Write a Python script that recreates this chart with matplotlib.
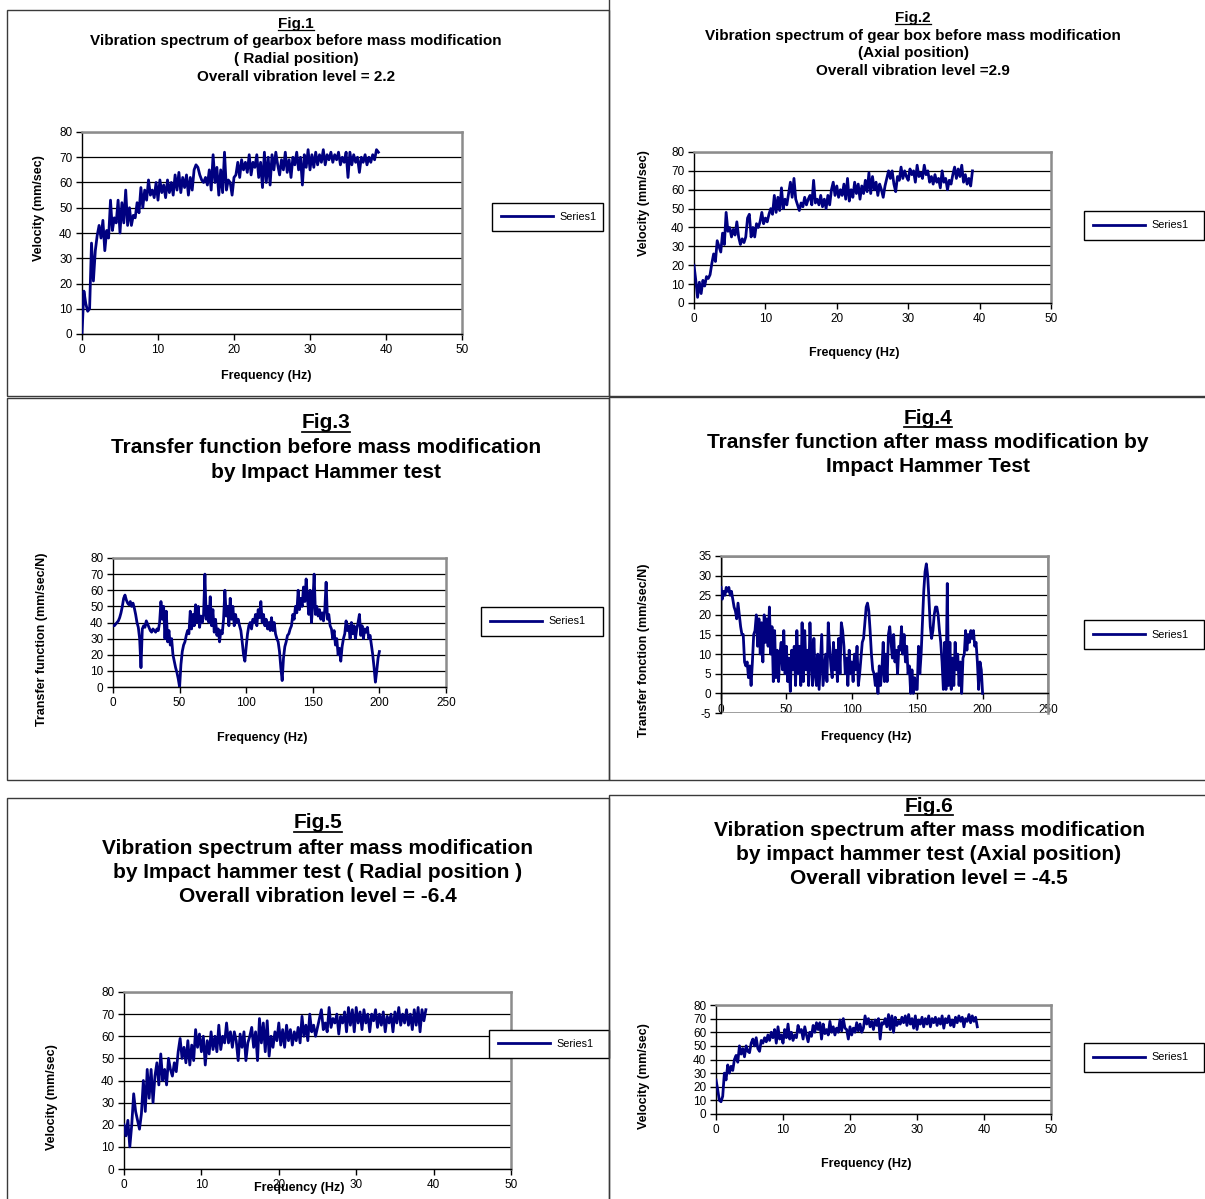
import numpy as np
import matplotlib
matplotlib.use("Agg")
import matplotlib.pyplot as plt
from matplotlib.patches import Rectangle
from matplotlib.lines import Line2D

plt.rcParams['font.family'] = ['Liberation Sans', 'DejaVu Sans']
plt.rcParams['axes.unicode_minus'] = False

# --- DATA (0.25 Hz steps for spectra, 1 Hz for transfer functions) ---
SPEC_STEP = 0.25
TF_STEP = 1.0

fig1_vel = [
    0, 17, 12, 9, 10, 36, 21, 33,
    39, 43, 38, 45, 33, 41, 38, 53,
    41, 46, 44, 53, 40, 52, 44, 57,
    43, 50, 43, 47, 46, 52, 48, 58,
    50, 57, 53, 61, 55, 57, 54, 60,
    53, 61, 56, 59, 54, 61, 56, 60,
    55, 63, 57, 64, 56, 62, 58, 63,
    55, 62, 57, 65, 67, 66, 63, 61,
    60, 62, 59, 65, 57, 71, 60, 66,
    55, 65, 56, 72, 57, 61, 60, 55,
    62, 63, 68, 62, 69, 65, 68, 64,
    71, 63, 68, 66, 71, 62, 68, 58,
    72, 60, 70, 59, 71, 65, 72, 67,
    63, 69, 65, 72, 64, 69, 62, 70,
    67, 72, 65, 70, 59, 71, 66, 73,
    65, 71, 66, 72, 67, 71, 68, 73,
    67, 71, 69, 72, 68, 71, 69, 72,
    67, 70, 68, 72, 62, 72, 67, 71,
    68, 70, 64, 70, 68, 71, 67, 70,
    68, 71, 69, 73, 72,
]

fig2_vel = [
    20, 12, 3, 11, 5, 12, 9, 14,
    13, 15, 21, 26, 22, 33, 30, 27,
    37, 31, 48, 38, 40, 35, 39, 36,
    43, 35, 31, 34, 32, 35, 45, 47,
    35, 40, 35, 42, 40, 43, 48, 42,
    45, 43, 47, 50, 47, 57, 48, 56,
    49, 61, 50, 55, 52, 58, 64, 56,
    66, 55, 52, 49, 53, 51, 56, 52,
    55, 57, 52, 65, 53, 55, 52, 57,
    51, 55, 50, 57, 52, 60, 64, 57,
    62, 56, 60, 57, 63, 55, 66, 54,
    60, 56, 64, 58, 63, 55, 62, 58,
    65, 59, 69, 58, 67, 60, 64, 57,
    63, 60, 56, 62, 66, 70, 66, 70,
    63, 59, 67, 65, 72, 66, 70, 67,
    65, 71, 68, 70, 64, 73, 67, 69,
    66, 73, 68, 70, 64, 67, 63, 68,
    64, 66, 61, 70, 64, 66, 60, 65,
    63, 68, 72, 66, 71, 67, 73, 64,
    68, 63, 66, 62, 70,
]

fig3_tf = [
    38, 38, 39, 40, 41, 43, 46, 50, 55, 57,
    54, 52, 51, 53, 50, 52, 49, 45, 40, 37,
    30, 12, 36, 38, 37, 41, 39, 37, 35, 34,
    36, 35, 34, 36, 35, 40, 53, 42, 50, 30,
    47, 28, 35, 26, 30, 20, 16, 12, 9, 5,
    0, 14, 22, 26, 28, 32, 35, 33, 47, 36,
    45, 38, 51, 40, 50, 37, 44, 40, 45, 70,
    42, 50, 40, 56, 38, 48, 34, 42, 32, 36,
    28, 35, 33, 42, 60, 44, 50, 38, 55, 42,
    50, 38, 45, 40, 42, 38, 35, 28, 20, 16,
    25, 33, 38, 40, 36, 42, 40, 45, 38, 48,
    43, 53, 40, 45, 38, 42, 36, 40, 35, 43,
    35, 40, 33, 30, 28, 22, 12, 4, 18, 25,
    28, 32, 33, 36, 38, 45, 42, 50, 46, 60,
    48, 55, 50, 62, 53, 67, 55, 45, 60, 40,
    52, 70, 45, 50, 44, 48, 42, 46, 41, 48,
    65, 42, 45, 38, 36, 30, 35, 26, 30, 20,
    24, 16, 25, 30, 33, 41, 35, 38, 30, 40,
    33, 38, 30, 36, 40, 45, 32, 38, 30, 36,
    34, 37, 30, 32, 26, 20, 12, 3, 10, 18,
    22,
]

fig4_tf = [
    27, 24, 26, 25, 27, 26, 27, 25, 26, 24,
    22, 21, 19, 23, 20, 17, 15, 15, 8, 7,
    8, 4, 7, 2, 8, 15, 16, 20, 12, 19,
    10, 18, 8, 20, 13, 19, 12, 22, 10, 17,
    3, 16, 4, 11, 3, 10, 13, 6, 16, 5,
    12, 3, 9, 0.5, 11, 6, 12, 2, 16, 5,
    12, 2, 18, 3, 16, 6, 11, 2, 18, 8,
    2, 14, 5, 2, 10, 1, 8, 15, 2, 6,
    10, 3, 18, 12, 7, 4, 13, 6, 11, 3,
    14, 5, 18, 16, 12, 5, 9, 2, 11, 5,
    8, 3, 10, 6, 12, 2, 5, 9, 13, 14,
    18, 22, 23, 21, 16, 10, 6, 5, 2, 5,
    0, 7, 2, 6, 13, 3, 10, 3, 15, 17,
    13, 9, 15, 8, 11, 5, 12, 11, 17, 10,
    15, 8, 12, 5, 7, 0, 6, 0, 4, 1,
    1, 12, 5, 10, 18, 26, 31, 33, 30, 24,
    17, 14, 16, 20, 22, 22, 20, 16, 13, 8,
    1, 13, 1, 28, 2, 13, 1, 9, 2, 13,
    6, 10, 2, 8, 0, 9, 10, 16, 11, 15,
    13, 16, 14, 16, 12, 13, 8, 1, 8, 6,
    0,
]

fig5_vel = [
    20, 15, 22, 10, 20, 34, 26, 22,
    18, 25, 40, 26, 45, 32, 45, 30,
    42, 48, 38, 52, 40, 45, 38, 50,
    45, 42, 48, 44, 53, 59, 50, 55,
    48, 58, 47, 56, 49, 63, 55, 61,
    53, 60, 47, 58, 52, 62, 54, 60,
    53, 65, 54, 60, 57, 66, 57, 62,
    55, 62, 58, 49, 61, 55, 62, 49,
    57, 60, 64, 55, 62, 49, 68, 57,
    66, 53, 67, 51, 60, 55, 62, 58,
    66, 56, 63, 55, 65, 58, 63, 56,
    62, 58, 64, 57, 69, 60, 65, 58,
    70, 62, 65, 60, 64, 68, 72, 63,
    66, 62, 73, 64, 68, 66, 70, 61,
    69, 66, 71, 62, 73, 65, 72, 62,
    73, 66, 71, 63, 72, 66, 70, 62,
    70, 67, 72, 64, 70, 65, 71, 62,
    69, 66, 70, 62, 71, 66, 73, 65,
    70, 66, 72, 65, 70, 63, 72, 65,
    73, 62, 72, 67, 72,
]

fig6_vel = [
    25, 18, 10, 9, 13, 30, 25, 36,
    30, 35, 32, 40, 43, 38, 50, 44,
    48, 42, 50, 46, 45, 52, 55, 50,
    56, 48, 46, 54, 52, 56, 53, 58,
    54, 60, 56, 62, 52, 64, 55, 58,
    52, 62, 56, 66, 55, 60, 54, 58,
    56, 65, 60, 62, 55, 64, 58, 53,
    60, 57, 65, 60, 67, 62, 67, 55,
    66, 59, 62, 58, 68, 60, 64, 58,
    63, 60, 69, 61, 70, 63, 62, 55,
    64, 58, 63, 60, 67, 61, 66, 60,
    63, 72, 66, 70, 64, 68, 62, 69,
    65, 70, 55, 67, 66, 70, 64, 73,
    62, 72, 60, 71, 65, 68, 66, 71,
    67, 72, 65, 73, 66, 70, 63, 72,
    62, 69, 66, 71, 64, 70, 66, 72,
    64, 70, 67, 71, 65, 70, 66, 72,
    63, 70, 67, 72, 65, 69, 64, 71,
    67, 72, 68, 71, 64, 70, 68, 73,
    67, 72, 68, 71, 64,
]

titles = [
    ["Vibration spectrum of gearbox before mass modification", "( Radial position)", "Overall vibration level = 2.2"],
    ["Vibration spectrum of gear box before mass modification", "(Axial position)", "Overall vibration level =2.9"],
    ["Transfer function before mass modification", "by Impact Hammer test"],
    ["Transfer function after mass modification by", "Impact Hammer Test"],
    ["Vibration spectrum after mass modification", "by Impact hammer test ( Radial position )", "Overall vibration level = -6.4"],
    ["Vibration spectrum after mass modification", "by impact hammer test (Axial position)", "Overall vibration level = -4.5"],
]
ylabels = ["Velocity (mm/sec)", "Velocity (mm/sec)", "Transfer function (mm/sec/N)",
           "Transfer fonction (mm/sec/N)", "Velocity (mm/sec)", "Velocity (mm/sec)"]
xlabel = "Frequency (Hz)"
spec_xticks = [0, 10, 20, 30, 40, 50]
tf_xticks = [0, 50, 100, 150, 200, 250]
vel_yticks = list(range(0, 81, 10))
tf4_yticks = list(range(-5, 36, 5))

# --- FIGURE ---
W, H = 1205, 1199
fig = plt.figure(figsize=(W / 100, H / 100), dpi=100)
fig.patch.set_facecolor("white")


def fx(x):
    return x / W


def fy(y):
    return 1 - y / H


def px_axes(l, t, r, b):
    return fig.add_axes([fx(l), fy(b), (r - l) / W, (b - t) / H])


# panel frames (left, top, right, bottom in pixels)
frames = [(7, 10, 609, 396), (609, -5, 1212, 396), (7, 398, 609, 780),
          (609, 397, 1212, 780), (7, 798, 609, 1210), (609, 795, 1212, 1210)]
for l, t, r, b in frames:
    fig.add_artist(Rectangle((fx(l), fy(b)), (r - l) / W, (b - t) / H,
                             transform=fig.transFigure, fill=False,
                             edgecolor="#3a3a3a", linewidth=1.0))

panels = [
    dict(y=fig1_vel, step=SPEC_STEP, box=(82, 132, 462, 334), xlim=(0, 50), ylim=(0, 80),
         xt=spec_xticks, yt=vel_yticks, leg=(492, 202, 603, 232), tsize=11, tx=296,
         ty=[24, 41, 59, 77], ylab=(39, 208), xlab=(266, 376)),
    dict(y=fig2_vel, step=SPEC_STEP, box=(694, 152, 1051, 303), xlim=(0, 50), ylim=(0, 80),
         xt=spec_xticks, yt=vel_yticks, leg=(1084, 211, 1204, 240), tsize=11, tx=913,
         ty=[18, 36, 53, 71], ylab=(644, 203), xlab=(854, 353)),
    dict(y=fig3_tf, step=TF_STEP, box=(113, 558, 446, 687), xlim=(0, 250), ylim=(0, 80),
         xt=tf_xticks, yt=vel_yticks, leg=(481, 607, 603, 636), tsize=15, tx=326,
         ty=[423, 447, 472], ylab=(42, 639), xlab=(262, 738)),
    dict(y=fig4_tf, step=TF_STEP, box=(721, 556, 1048, 713), xlim=(0, 250), ylim=(-5, 35),
         xt=tf_xticks, yt=tf4_yticks, leg=(1084, 620, 1204, 649), tsize=15, tx=928,
         ty=[418, 442, 466], ylab=(644, 650), xlab=(866, 737)),
    dict(y=fig5_vel, step=SPEC_STEP, box=(124, 992, 511, 1169), xlim=(0, 50), ylim=(0, 80),
         xt=spec_xticks, yt=vel_yticks, leg=(489, 1029, 609, 1059), tsize=15, tx=318,
         ty=[823, 848, 872, 896], ylab=(52, 1097), xlab=(299, 1188)),
    dict(y=fig6_vel, step=SPEC_STEP, box=(716, 1005, 1051, 1114), xlim=(0, 50), ylim=(0, 80),
         xt=spec_xticks, yt=vel_yticks, leg=(1084, 1043, 1204, 1072), tsize=15, tx=929,
         ty=[806, 830, 855, 879], ylab=(644, 1076), xlab=(866, 1164)),
]

fig_labels = []
for i, p in enumerate(panels):
    ax = px_axes(*p["box"])
    y = np.array(p["y"], dtype=float)
    x = np.arange(len(y)) * p["step"]
    line, = ax.plot(x, y, color="#000080", linewidth=2.0, label="Series1", zorder=3)

    ax.set_xlim(*p["xlim"])
    ax.set_ylim(*p["ylim"])
    ax.set_xticks(p["xt"])
    ax.set_yticks(p["yt"])
    ax.yaxis.grid(True, color="black", linewidth=0.9)
    ax.set_axisbelow(True)
    ax.tick_params(direction="out", length=4, width=1, labelsize=8.5, pad=3)
    for s in ["top", "right"]:
        ax.spines[s].set_color("#8c8c8c")
        ax.spines[s].set_linewidth(1.8)
    for s in ["left", "bottom"]:
        ax.spines[s].set_color("black")
        ax.spines[s].set_linewidth(1.0)
    if p["ylim"][0] < 0:
        # x axis crosses at zero, gray frame at the bottom of the plot area
        ax.spines["bottom"].set_position(("data", 0))
        ax.add_patch(Rectangle((0, 0), 1, 1, transform=ax.transAxes, fill=False,
                               edgecolor="#8c8c8c", linewidth=1.8, zorder=1))
        ax.tick_params(axis="x", pad=4)

    # legend box
    l, t, r, b = p["leg"]
    ax.legend(handles=[line], loc="center", mode="expand",
              bbox_to_anchor=(fx(l), fy(b), (r - l) / W, (b - t) / H),
              bbox_transform=fig.transFigure, fancybox=False, framealpha=1,
              edgecolor="black", fontsize=7.8, handlelength=4.8, handletextpad=0.6,
              borderpad=0.85, borderaxespad=0)
    ax.get_legend().get_frame().set_linewidth(1.0)

    # titles
    lines = ["Fig.%d" % (i + 1)] + titles[i]
    for j, txt in enumerate(lines):
        tt = fig.text(fx(p["tx"]), fy(p["ty"][j]), txt, ha="center", va="center",
                      fontsize=p["tsize"], fontweight="bold")
        if j == 0:
            fig_labels.append(tt)

    fig.text(fx(p["xlab"][0]), fy(p["xlab"][1]), xlabel, ha="center", va="center",
             fontsize=9, fontweight="bold")
    fig.text(fx(p["ylab"][0]), fy(p["ylab"][1]), ylabels[i], ha="center", va="center",
             fontsize=9, fontweight="bold", rotation=90)

# underline the "Fig.N" labels
fig.canvas.draw()
renderer = fig.canvas.get_renderer()
for tt in fig_labels:
    bb = tt.get_window_extent(renderer)
    yline = bb.y0 + 1
    fig.add_artist(Line2D([bb.x0 / W, bb.x1 / W], [yline / H, yline / H],
                          transform=fig.transFigure, color="black",
                          linewidth=tt.get_fontsize() / 12))

fig.savefig("out.png", dpi=100)
